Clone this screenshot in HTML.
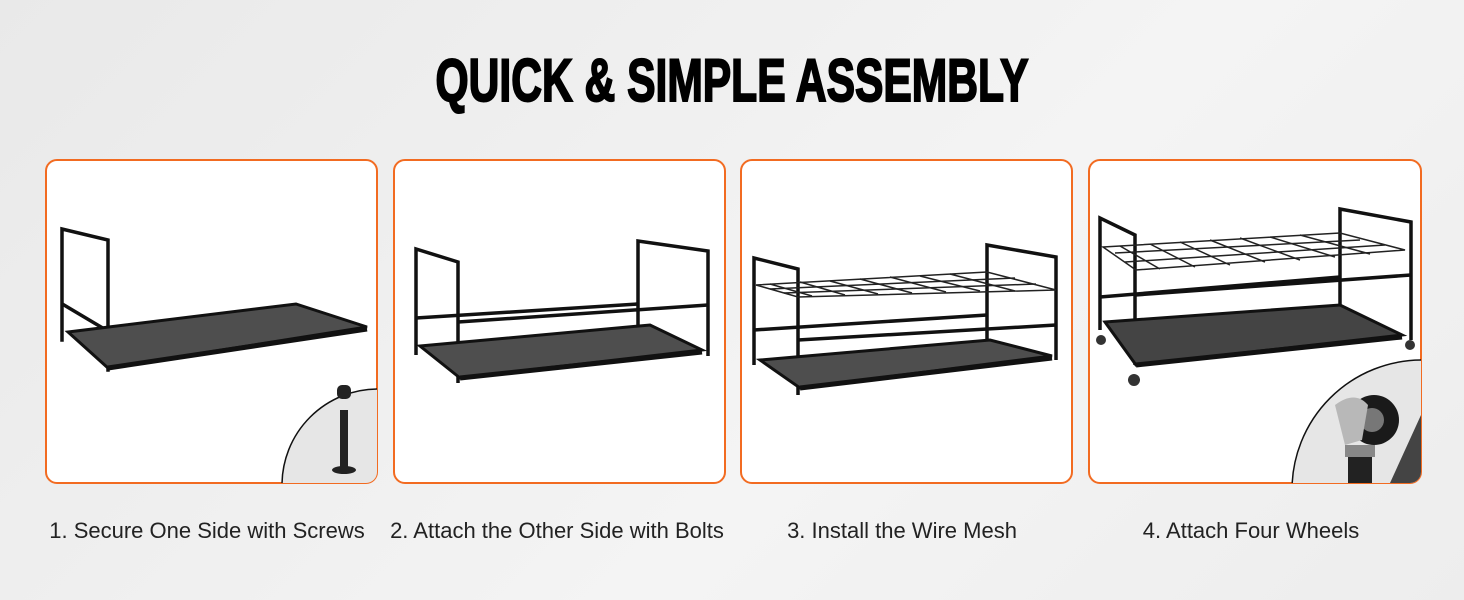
<!DOCTYPE html>
<html><head><meta charset="utf-8"><style>
html,body{margin:0;padding:0;width:1464px;height:600px;overflow:hidden;background:linear-gradient(135deg,#e9e9e9,#f4f4f4 60%,#ededed);}
</style></head><body>
<svg width="1464" height="600" viewBox="0 0 1464 600" xmlns="http://www.w3.org/2000/svg" style="position:absolute;left:0;top:0">
<defs>
<clipPath id="c1"><rect x="46" y="160" width="331" height="323" rx="11"/></clipPath>
<clipPath id="c4"><rect x="1089" y="160" width="332" height="323" rx="11"/></clipPath>
</defs>
<text x="732" y="101" text-anchor="middle" textLength="593" lengthAdjust="spacingAndGlyphs" font-family="Liberation Sans Narrow, Liberation Sans, sans-serif" font-weight="bold" font-size="60" fill="#000" stroke="#000" stroke-width="2">QUICK &amp; SIMPLE ASSEMBLY</text>

<g fill="#fff" stroke="#f26b21" stroke-width="2">
<rect x="46" y="160" width="331" height="323" rx="11"/>
<rect x="394" y="160" width="331" height="323" rx="11"/>
<rect x="741" y="160" width="331" height="323" rx="11"/>
<rect x="1089" y="160" width="332" height="323" rx="11"/>
</g>

<!-- Panel 1 -->
<g stroke="#111" stroke-width="3.5" fill="none" stroke-linecap="square">
<polyline points="62,340 62,229 108,240 108,370"/>
<line x1="64" y1="305" x2="106" y2="330"/>
</g>
<polygon points="68,332 296,304 367,327 108,368" fill="#4e4e4e" stroke="#111" stroke-width="3"/>
<line x1="108" y1="368" x2="367" y2="329" stroke="#111" stroke-width="5"/>
<g clip-path="url(#c1)">
<circle cx="378" cy="485" r="96" fill="#e6e6e6" stroke="#111" stroke-width="1.5"/>
<rect x="337" y="385" width="14" height="14" rx="5" fill="#222"/>
<rect x="340" y="410" width="8" height="58" fill="#222"/>
<ellipse cx="344" cy="470" rx="12" ry="4" fill="#222"/>
</g>

<!-- Panel 2 -->
<g stroke="#111" stroke-width="3.5" fill="none">
<polyline points="416,355 416,249 458,262 458,383"/>
<polyline points="638,330 638,241 708,251 708,356"/>
<line x1="458" y1="322" x2="708" y2="305"/>
<line x1="416" y1="318" x2="638" y2="304"/>
</g>
<polygon points="420,346 650,325 702,350 460,378" fill="#4e4e4e" stroke="#111" stroke-width="3"/>
<line x1="460" y1="378" x2="702" y2="352" stroke="#111" stroke-width="5"/>

<!-- Panel 3 -->
<g stroke="#111" stroke-width="3.5" fill="none">
<polyline points="754,365 754,258 798,269 798,395"/>
<polyline points="987,340 987,245 1056,257 1056,360"/>
<line x1="798" y1="340" x2="1056" y2="325"/>
<line x1="754" y1="330" x2="987" y2="315"/>
</g>
<g stroke="#222" stroke-width="1.5" fill="none">
<polygon points="756,285 987,272 1056,290 798,297"/>
<line x1="770" y1="284" x2="812" y2="296"/><line x1="800" y1="282" x2="845" y2="295"/><line x1="830" y1="281" x2="878" y2="294"/><line x1="860" y1="279" x2="912" y2="293"/><line x1="890" y1="277" x2="946" y2="292"/><line x1="920" y1="276" x2="980" y2="291"/><line x1="950" y1="274" x2="1015" y2="291"/>
<line x1="770" y1="289" x2="1015" y2="278"/><line x1="784" y1="293" x2="1036" y2="284"/>
</g>
<polygon points="760,360 990,340 1052,356 800,388" fill="#4e4e4e" stroke="#111" stroke-width="3"/>
<line x1="800" y1="388" x2="1052" y2="358" stroke="#111" stroke-width="5"/>

<!-- Panel 4 -->
<g stroke="#111" stroke-width="3.5" fill="none">
<polyline points="1100,330 1100,218 1135,235 1135,365"/>
<polyline points="1340,305 1340,209 1411,222 1411,340"/>
<line x1="1135" y1="295" x2="1411" y2="275"/>
<line x1="1100" y1="297" x2="1340" y2="277"/>
</g>
<g stroke="#222" stroke-width="1.5" fill="none">
<polygon points="1103,247 1340,233 1405,250 1136,270"/>
<line x1="1120" y1="246" x2="1160" y2="269"/><line x1="1150" y1="244" x2="1195" y2="267"/><line x1="1180" y1="242" x2="1230" y2="265"/><line x1="1210" y1="240" x2="1265" y2="262"/><line x1="1240" y1="238" x2="1300" y2="260"/><line x1="1270" y1="237" x2="1335" y2="257"/><line x1="1300" y1="235" x2="1370" y2="254"/>
<line x1="1115" y1="253" x2="1360" y2="240"/><line x1="1125" y1="262" x2="1385" y2="245"/>
</g>
<polygon points="1105,322 1340,305 1402,335 1136,365" fill="#444" stroke="#111" stroke-width="3"/>
<line x1="1136" y1="365" x2="1402" y2="337" stroke="#111" stroke-width="5"/>
<g fill="#333"><circle cx="1101" cy="340" r="5"/><circle cx="1134" cy="380" r="6"/><circle cx="1410" cy="345" r="5"/></g>
<g clip-path="url(#c4)">
<circle cx="1422" cy="490" r="130" fill="#e6e6e6" stroke="#111" stroke-width="1.5"/>
<polygon points="1421,415 1421,483 1390,483" fill="#444"/>
<circle cx="1374" cy="420" r="25" fill="#1a1a1a"/>
<circle cx="1372" cy="420" r="12" fill="#777"/>
<path d="M1335,405 Q1355,390 1368,405 L1362,440 L1345,445 Z" fill="#b8b8b8"/>
<rect x="1345" y="445" width="30" height="12" fill="#888"/>
<rect x="1348" y="457" width="24" height="30" fill="#222"/>
</g>

<g font-family="Liberation Sans, sans-serif" font-size="22" fill="#222" text-anchor="middle">
<text x="207" y="538">1. Secure One Side with Screws</text>
<text x="557" y="538">2. Attach the Other Side with Bolts</text>
<text x="902" y="538">3. Install the Wire Mesh</text>
<text x="1251" y="538">4. Attach Four Wheels</text>
</g>
</svg>
</body></html>
